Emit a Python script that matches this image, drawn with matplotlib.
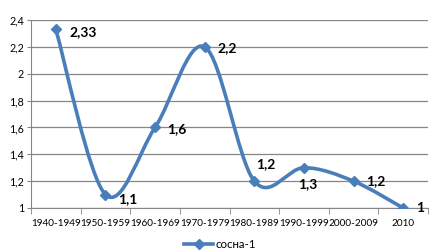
import matplotlib
matplotlib.use("Agg")
import matplotlib.pyplot as plt
from matplotlib.path import Path
from matplotlib.patches import PathPatch
from matplotlib.ticker import FuncFormatter, MultipleLocator, FixedLocator

periods = ["1940-1949", "1950-1959", "1960-1969", "1970-1979",
           "1980-1989", "1990-1999", "2000-2009", "2010"]
values = [2.33, 1.1, 1.6, 2.2, 1.2, 1.3, 1.2, 1.0]
value_labels = ["2,33", "1,1", "1,6", "2,2", "1,2", "1,3", "1,2", "1"]
# label offsets in points (dx, dy)
label_offsets = [(10, -2), (9, -3), (9, -1), (9, -1), (1, 12), (-4, -12), (9, 0), (9, 0)]

color = "#4A7EBB"
plt.rcParams["font.family"] = ["Lato", "DejaVu Sans"]

fig = plt.figure(figsize=(4.33, 2.52), dpi=100)
ax = fig.add_axes([31 / 433, 1 - 208 / 252, 397 / 433, 188 / 252])

x = list(range(len(values)))

# smoothed line (Catmull-Rom style bezier, like excel "smoothed line")
verts = [(x[0], values[0])]
codes = [Path.MOVETO]
n = len(values)
for i in range(n - 1):
    p0 = (x[max(i - 1, 0)], values[max(i - 1, 0)])
    p1 = (x[i], values[i])
    p2 = (x[i + 1], values[i + 1])
    p3 = (x[min(i + 2, n - 1)], values[min(i + 2, n - 1)])
    c1 = (p1[0] + (p2[0] - p0[0]) / 6, p1[1] + (p2[1] - p0[1]) / 6)
    c2 = (p2[0] - (p3[0] - p1[0]) / 6, p2[1] - (p3[1] - p1[1]) / 6)
    verts += [c1, c2, p2]
    codes += [Path.CURVE4] * 3
ax.add_patch(PathPatch(Path(verts, codes), facecolor="none", edgecolor=color,
                       lw=2.6, zorder=3, capstyle="round"))
ax.plot(x, values, linestyle="none", marker="D", markersize=5.5, color=color,
        zorder=4)
ax.plot([], [], color=color, lw=2.6, marker="D", markersize=5.5, label="сосна-1")

for xi, v, lab, off in zip(x, values, value_labels, label_offsets):
    ax.annotate(lab, (xi, v), xytext=off, textcoords="offset points",
                ha="left", va="center", fontsize=10, fontweight="bold",
                color="black", zorder=5)

ax.set_xlim(-0.5, n - 0.5)
ax.set_ylim(1.0, 2.4)
ax.yaxis.set_major_locator(MultipleLocator(0.2))
ax.yaxis.set_major_formatter(FuncFormatter(lambda v, p: ("%g" % round(v, 2)).replace(".", ",")))
ax.set_xticks(x)
ax.set_xticklabels(periods)
ax.xaxis.set_minor_locator(FixedLocator([i - 0.5 for i in range(n + 1)]))
ax.tick_params(axis="x", which="major", length=0, pad=8, labelsize=7.2)
ax.tick_params(axis="x", which="minor", length=4, color="#868686", direction="out")
ax.tick_params(axis="y", length=3, color="#868686", labelsize=7.7, pad=2)
ax.grid(axis="y", color="#868686", lw=0.9)
ax.set_axisbelow(True)
for s in ["top", "right"]:
    ax.spines[s].set_visible(False)
for s in ["left", "bottom"]:
    ax.spines[s].set_color("#868686")

fig.legend(loc="center", bbox_to_anchor=(220 / 433, 1 - 245 / 252), frameon=False,
           fontsize=8.3, handlelength=2.5, handletextpad=0.2)

fig.savefig("out.png", dpi=100)
